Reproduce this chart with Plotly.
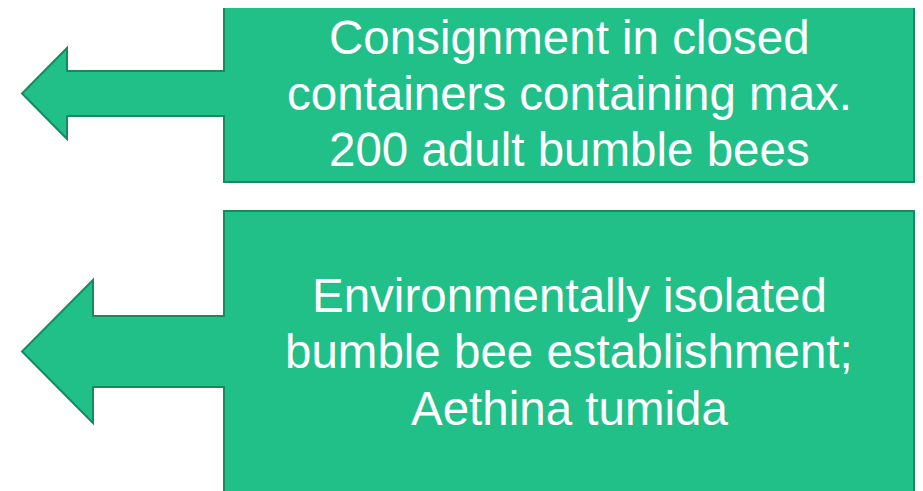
import plotly.graph_objects as go

# Diagram content: text lines per box
box_lines = [
    ["Consignment in closed", "containers containing max.", "200 adult bumble bees"],
    ["Environmentally isolated", "bumble bee establishment;", "Aethina tumida"],
]
# Baselines of each text line (pixel space)
line_baselines = [
    [54, 110, 166],
    [312, 368, 425],
]
# Geometry of each box + left arrow (pixel space)
box_left = [224, 224]
box_top = [6, 211]
box_right = [914, 914]
box_bottom = [182, 505]
shaft_top = [71, 316]
shaft_bottom = [116, 387]
head_base_x = [67, 93]
head_top = [48, 280]
head_bottom = [139, 423]
tip_x = [22, 22]

FILL = "#21C089"
LINE = "#178B60"
FONT_SIZE = 47.5

W, H = 923, 491
OFF = 8  # page body margin offset
fig = go.Figure()
fig.add_trace(go.Scatter(x=[OFF, W], y=[OFF, H], mode="markers", marker=dict(opacity=0),
                         hoverinfo="skip", showlegend=False))

for i in range(len(box_lines)):
    tip_y = (shaft_top[i] + shaft_bottom[i]) / 2
    path = (
        f"M {box_left[i]} {box_top[i]} L {box_right[i]} {box_top[i]} "
        f"L {box_right[i]} {box_bottom[i]} L {box_left[i]} {box_bottom[i]} "
        f"L {box_left[i]} {shaft_bottom[i]} L {head_base_x[i]} {shaft_bottom[i]} "
        f"L {head_base_x[i]} {head_bottom[i]} L {tip_x[i]} {tip_y} "
        f"L {head_base_x[i]} {head_top[i]} L {head_base_x[i]} {shaft_top[i]} "
        f"L {box_left[i]} {shaft_top[i]} Z"
    )
    fig.add_shape(type="path", path=path, xref="x", yref="y",
                  fillcolor=FILL, line=dict(color=LINE, width=2), layer="below")
    cx = (box_left[i] + box_right[i]) / 2
    for txt, base in zip(box_lines[i], line_baselines[i]):
        fig.add_annotation(
            x=cx, y=base - 0.34 * FONT_SIZE, xref="x", yref="y",
            text=txt, showarrow=False, align="center",
            xanchor="center", yanchor="middle",
            font=dict(family="Arial, Liberation Sans, sans-serif", size=FONT_SIZE, color="white"),
        )

fig.update_layout(
    width=W - OFF, height=H - OFF, margin=dict(l=0, r=0, t=0, b=0, pad=0),
    paper_bgcolor="white", plot_bgcolor="white",
    xaxis=dict(range=[OFF, W], visible=False, fixedrange=True),
    yaxis=dict(range=[H, OFF], visible=False, fixedrange=True),
    showlegend=False,
)
fig.write_html("out.html", config={"displayModeBar": False})
